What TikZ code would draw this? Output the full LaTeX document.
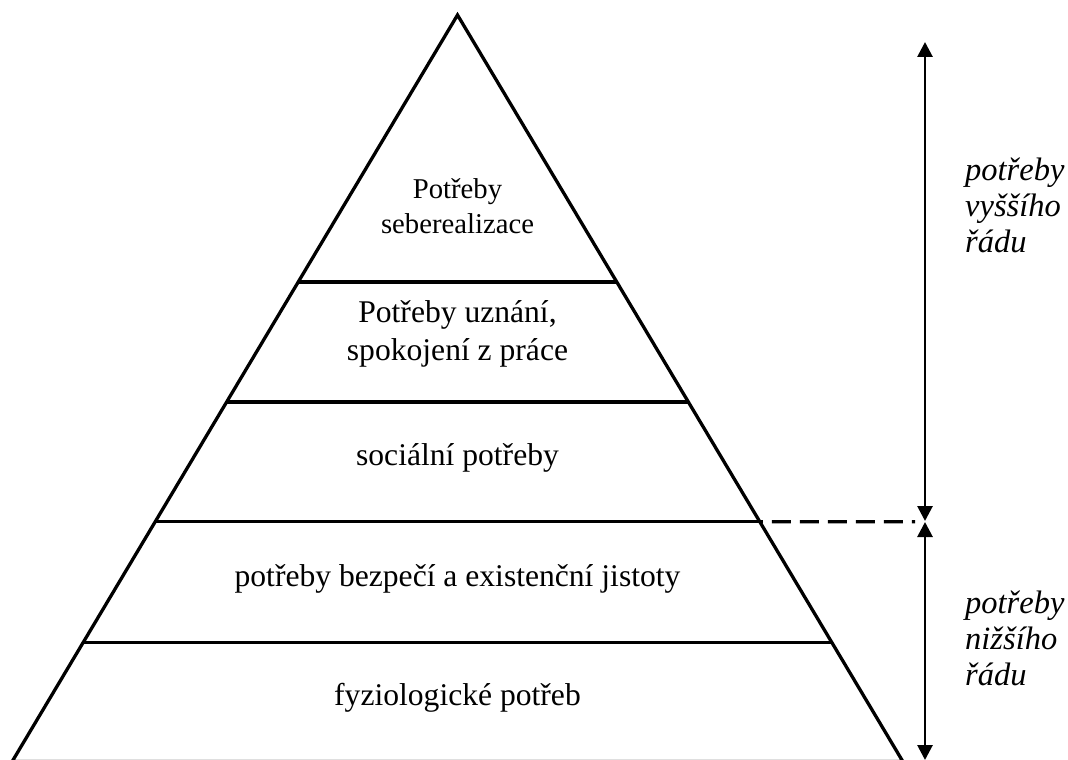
\documentclass[tikz,border=0pt]{standalone}
\usepackage{fontspec}
\setmainfont{Liberation Serif}
\usetikzlibrary{arrows.meta,calc}
\begin{document}
\begin{tikzpicture}[x=1pt,y=-1pt,
  edge/.style={line width=3.3pt, line join=miter},
  lvl/.style={font=\fontsize{31.6}{37.5}\selectfont, align=center, anchor=base},
  side/.style={font=\fontsize{32.5}{36}\selectfont\itshape, align=left, anchor=base west, inner sep=0pt},
  span/.style={line width=2.8pt, {Triangle[width=15pt,length=15pt]}-{Triangle[width=15pt,length=15pt]}}]
\useasboundingbox (0,0) rectangle (1068,760);
\coordinate (A) at (457.5,15);
\coordinate (BL) at (12.1,761.6);
\coordinate (BR) at (902.9,761.6);
\draw[edge] (A) -- (BL) -- (BR) -- cycle;
\foreach \n/\t in {1/0.3576,2/0.5183,3/0.6787,4/0.8407} {
  \coordinate (L\n) at ($(A)!\t!(BL)$);
  \coordinate (R\n) at ($(A)!\t!(BR)$);
  \draw[edge] (L\n) -- (R\n);
}
\coordinate (D) at (915,521.7);
\draw[line width=3.3pt, dash pattern=on 19pt off 9pt, dash phase=16pt] (R3) -- (D);
\node[lvl, font=\fontsize{28.7}{35}\selectfont] (n5) at (457.5,233) {Potřeby\\seberealizace};
\node[lvl] (n4) at (457.5,360) {Potřeby uznání,\\spokojení z práce};
\node[lvl] (n3) at (457.5,465) {sociální potřeby};
\node[lvl] (n2) at (457.5,586) {potřeby bezpečí a existenční jistoty};
\node[lvl] (n1) at (457.5,705) {fyziologické potřeb};
\node[side] (hi) at (965,252) {potřeby\\vyššího\\řádu};
\node[side] (lo) at (965,685) {potřeby\\nižšího\\řádu};
\coordinate (T) at (925,42);
\coordinate (M1) at (925,521);
\coordinate (M2) at (925,522);
\coordinate (Bt) at (925,760);
\draw[span] (M1) -- (T);
\draw[span] (M2) -- (Bt);
\end{tikzpicture}
\end{document}
